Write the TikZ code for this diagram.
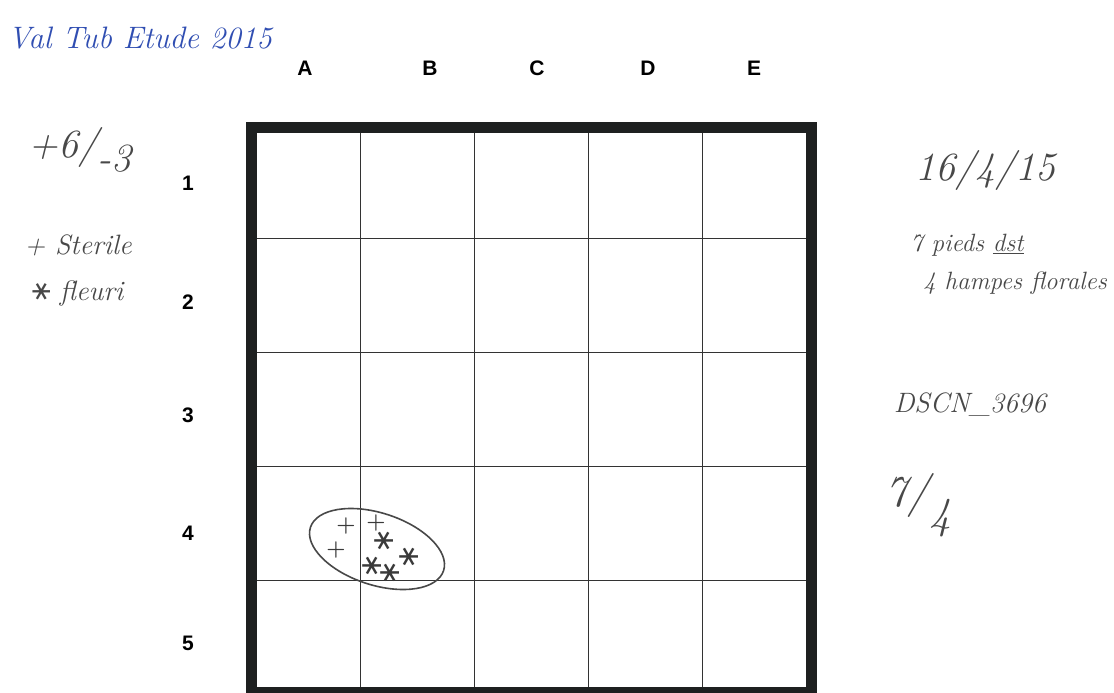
\documentclass[tikz,border=0pt]{standalone}
\usepackage{fontspec}
\setsansfont{Liberation Sans}
\newfontfamily\starfont{DejaVu Sans}
\usetikzlibrary{positioning,shapes.geometric}
\definecolor{InkBlue}{RGB}{48,78,178}
\definecolor{Pencil}{RGB}{72,72,72}
\definecolor{FrameBlack}{RGB}{30,32,32}
\tikzset{
  axislabel/.style={font=\sffamily\bfseries\fontsize{21}{21}\selectfont,text=black},
  note/.style={font=\itshape\fontsize{25}{25}\selectfont,text=Pencil,inner sep=0pt},
  bignote/.style={font=\itshape\fontsize{40}{40}\selectfont,text=Pencil,inner sep=0pt},
  sterile/.style={font=\bfseries\fontsize{22}{22}\selectfont,text=Pencil!80!black,inner sep=0pt},
  fleuri/.style={font=\starfont\fontsize{30}{30}\selectfont,text=Pencil!80!black,inner sep=0pt,rotate=90},
  gridline/.style={draw=black!80,line width=1pt}
}

\begin{document}
\begin{tikzpicture}[x=1pt,y=-1pt]
\useasboundingbox (0,0) rectangle (1114,693);
\fill[white] (0,0) rectangle (1114,693);

% grid
\foreach \gx in {360,474,588,702}
  \draw[gridline] (\gx,127) -- (\gx,692);
\foreach \gy in {238,352,466,580}
  \draw[gridline] (251,\gy) -- (811,\gy);
\draw[FrameBlack,line width=11pt] (251,127) rectangle (811,692);

% column and row labels
\node[axislabel] (colA) at (305,68) {A};
\node[axislabel] (colB) at (430,68) {B};
\node[axislabel] (colC) at (537,68) {C};
\node[axislabel] (colD) at (648,68) {D};
\node[axislabel] (colE) at (754,68) {E};
\node[axislabel] (row1) at (188,183) {1};
\node[axislabel] (row2) at (188,302) {2};
\node[axislabel] (row3) at (188,415) {3};
\node[axislabel] (row4) at (188,533) {4};
\node[axislabel] (row5) at (188,643) {5};

% handwritten notes
\node[note,text=InkBlue,font=\itshape\fontsize{31}{31}\selectfont] (title) at (140,38) {Val Tub Etude 2015};
\node[bignote] (score) at (80,150) {+6/\raisebox{-0.35em}{-3}};
\node[note,font=\itshape\fontsize{28}{28}\selectfont] (legplus) at (78,245) {+ Sterile};
\node[note,font=\itshape\fontsize{28}{28}\selectfont] (legstar) at (78,293) {{\starfont\rotatebox[origin=c]{90}{∗}} fleuri};
\node[bignote] (date) at (985,170) {16/4/15};
\node[note] (pieds) at (967,245) {7 pieds \underline{dst}};
\node[note] (hampes) at (1015,283) {4 hampes florales};
\node[note,font=\itshape\fontsize{28}{28}\selectfont] (photo) at (970,405) {DSCN\_3696};
\node[bignote,font=\itshape\fontsize{44}{44}\selectfont] (ratio) at (918,505) {7/\raisebox{-0.5em}{4}};

% patch of plants in A4/B4
\node[draw=Pencil,line width=1.6pt,ellipse,minimum width=140pt,minimum height=72pt,rotate=-18] (patch) at (377,549) {};
\node[sterile] (s1) at (346,526) {+};
\node[sterile] (s2) at (376,523) {+};
\node[sterile] (s3) at (336,550) {+};
\node[fleuri] (f1) at (384,541) {∗};
\node[fleuri] (f2) at (372,566) {∗};
\node[fleuri] (f3) at (390,573) {∗};
\node[fleuri] (f4) at (409,557) {∗};

\end{tikzpicture}
\end{document}
